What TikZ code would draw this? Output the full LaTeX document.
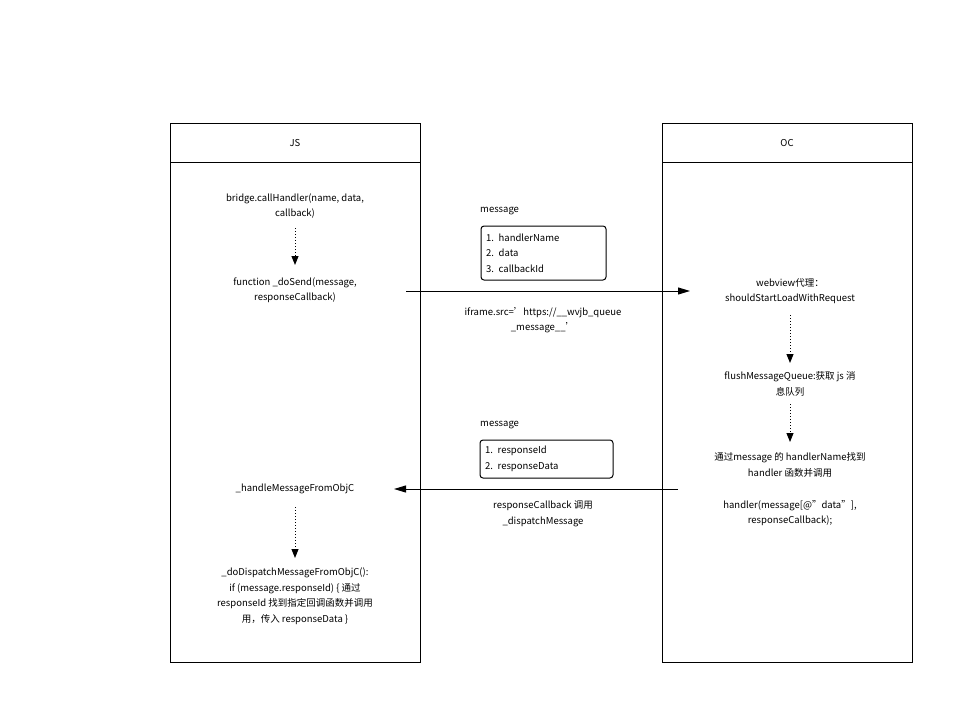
\documentclass[tikz,border=0pt]{standalone}
\usepackage{fontspec}
\setmainfont{Noto Sans CJK SC}
\usetikzlibrary{arrows.meta}
\tikzset{
  lane/.style={draw,line width=1pt},
  txt/.style={font=\fontsize{9.5}{15.5}\selectfont,align=center,inner sep=0pt},
  step/.style={},
  dotarrow/.style={draw,dotted,line width=1pt,-{Triangle[length=9pt,width=7pt]}},
  flow/.style={draw,line width=1pt,-{Triangle[length=12pt,width=7pt]}},
  msgbox/.style={draw,rounded corners=3pt,line width=1pt,align=left,font=\fontsize{9.5}{15.5}\selectfont,inner sep=0pt}
}
\begin{document}
\begin{tikzpicture}[x=1pt,y=-1pt]
    \useasboundingbox (0,0) rectangle (974,725);
    % lanes
    \draw[lane] (170,123) rectangle (420,662);
    \draw[lane] (170,162) -- (420,162);
    \draw[lane] (662,123) rectangle (912,662);
    \draw[lane] (662,162) -- (912,162);
    \node[txt] (js) at (295,143) {JS};
    \node[txt] (oc) at (787,143) {OC};

    % JS side
    \node[txt] (call) at (295,206) {bridge.callHandler(name, data,\\callback)};
    \node[txt] (send) at (295,290) {function \_doSend(message,\\responseCallback)};
    \node[txt] (handle) at (295,489) {\_handleMessageFromObjC};
    \node[txt] (dispatch) at (295,596) {\_doDispatchMessageFromObjC():\\if (message.responseId) \{ 通过\\responseId 找到指定回调函数并调用\\用，传入 responseData \}};

    % OC side
    \node[txt] (webview) at (790,291) {webview代理：\\shouldStartLoadWithRequest};
    \node[txt] (flush) at (790,384) {flushMessageQueue:获取 js 消\\息队列};
    \node[txt] (find) at (790,465) {通过message 的 handlerName找到\\handler 函数并调用};
    \node[txt] (handler) at (790,513) {handler(message[@"data"],\\responseCallback);};

    % messages
    \node[txt,anchor=west] (msglabel1) at (480,211) {message};
    \node[msgbox,minimum width=125pt,minimum height=54pt,text width=115pt] (msg1) at (543.5,253) {1. handlerName\\2. data\\3. callbackId};
    \node[txt] (iframe) at (543,320) {iframe.src='https://\_\_wvjb\_queue\\\_message\_\_'};
    \node[txt,anchor=west] (msglabel2) at (480,425) {message};
    \node[msgbox,minimum width=133pt,minimum height=38pt,text width=123pt] (msg2) at (546.5,459) {1. responseId\\2. responseData};
    \node[txt] (respcb) at (543,514) {responseCallback 调用\\\_dispatchMessage};

    % connectors
    \coordinate (s1) at (406,291);
    \coordinate (e1) at (690,291);
    \coordinate (s2) at (678,489);
    \coordinate (e2) at (394,489);
    \draw[dotarrow] (call.south |- 0,228) -- (295,265);
    \draw[dotarrow] (790,315) -- (790,363);
    \draw[dotarrow] (790,404) -- (790,442);
    \draw[dotarrow] (295,507) -- (295,558);
    \draw[flow] (s1) -- (e1);
    \draw[flow] (s2) -- (e2);
\end{tikzpicture}
\end{document}
